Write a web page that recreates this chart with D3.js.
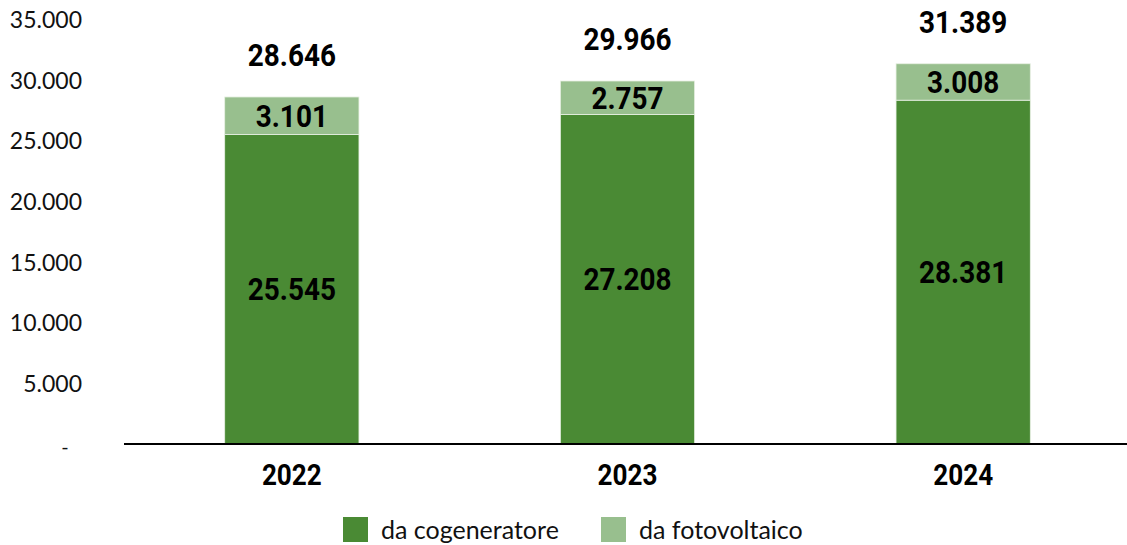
<!DOCTYPE html>
<html>
<head>
<meta charset="utf-8">
<script src="https://cdn.jsdelivr.net/npm/d3@7"></script>
<style>
  body { margin: 0; background: #fff; }
  .bold { font-family: "Roboto", sans-serif; font-weight: bold; fill: #000; }
  .reg { font-family: "Lato", "Open Sans", sans-serif; fill: #111; }
</style>
</head>
<body>
<svg width="1127" height="545"></svg>
<script>
const years = ['2022', '2023', '2024'];
const cogeneratore = [25545, 27208, 28381];
const fotovoltaico = [3101, 2757, 3008];
const totals = [28646, 29966, 31389];
const yTicks = [0, 5000, 10000, 15000, 20000, 25000, 30000, 35000];
const seriesNames = ['da cogeneratore', 'da fotovoltaico'];
const colors = ['#4a8a34', '#98bf8e'];

const svg = d3.select('svg');

const x = d3.scaleBand()
  .domain(years)
  .range([124, 1131])
  .paddingInner(0.6)
  .paddingOuter(0.3);

const y = d3.scaleLinear()
  .domain([0, 35000])
  .range([444, 20]);

const fmt = v => v === 0 ? '-' : d3.format(',')(v).replace(/,/g, '.');
// condensed look for the bold labels
const squeeze = (px, py) => `translate(${px},${py}) scale(0.9,1)`;

// y tick labels
svg.selectAll('.ytick')
  .data(yTicks)
  .enter()
  .append('text')
  .attr('class', 'reg')
  .attr('x', d => d === 0 ? 65 : 82)
  .attr('y', d => y(d))
  .attr('dy', d => d === 0 ? '0.5em' : '0.36em')
  .attr('text-anchor', d => d === 0 ? 'middle' : 'end')
  .style('font-size', d => d === 0 ? '20px' : '23px')
  .text(fmt);

const stackData = years.map((yr, i) => ({ year: yr, cog: cogeneratore[i], foto: fotovoltaico[i] }));
const stack = d3.stack().keys(['cog', 'foto'])(stackData);

const groups = svg.selectAll('.layer')
  .data(stack)
  .enter()
  .append('g')
  .attr('fill', (d, i) => colors[i]);

groups.selectAll('rect')
  .data(d => d)
  .enter()
  .append('rect')
  .attr('x', d => x(d.data.year))
  .attr('width', x.bandwidth())
  .attr('y', d => y(d[1]))
  .attr('height', d => y(d[0]) - y(d[1]))
  .attr('stroke', '#e8f0e4')
  .attr('stroke-width', 0.8);

// segment labels
groups.selectAll('.seg')
  .data(d => d)
  .enter()
  .append('text')
  .attr('class', 'bold')
  .attr('transform', d => squeeze(x(d.data.year) + x.bandwidth() / 2, (y(d[0]) + y(d[1])) / 2))
  .attr('dy', '0.36em')
  .attr('text-anchor', 'middle')
  .style('font-size', '31px')
  .text(d => fmt(d[1] - d[0]));

// totals
svg.selectAll('.total')
  .data(years)
  .enter()
  .append('text')
  .attr('class', 'bold')
  .attr('transform', (d, i) => squeeze(x(d) + x.bandwidth() / 2, y(totals[i]) - 42))
  .attr('dy', '0.36em')
  .attr('text-anchor', 'middle')
  .style('font-size', '31px')
  .text((d, i) => fmt(totals[i]));

// baseline
svg.append('line')
  .attr('x1', 124)
  .attr('x2', 1127)
  .attr('y1', y(0))
  .attr('y2', y(0))
  .attr('stroke', '#000')
  .attr('stroke-width', 2);

// year labels
svg.selectAll('.year')
  .data(years)
  .enter()
  .append('text')
  .attr('class', 'bold')
  .attr('transform', d => squeeze(x(d) + x.bandwidth() / 2, 475))
  .attr('dy', '0.36em')
  .attr('text-anchor', 'middle')
  .style('font-size', '29px')
  .text(d => d);

// legend
const legendX = [343, 601];
const legend = svg.selectAll('.legend')
  .data(seriesNames)
  .enter()
  .append('g')
  .attr('transform', (d, i) => `translate(${legendX[i]},517)`);

legend.append('rect')
  .attr('width', 25)
  .attr('height', 25)
  .attr('fill', (d, i) => colors[i]);

legend.append('text')
  .attr('class', 'reg')
  .attr('x', 38)
  .attr('y', 13)
  .attr('dy', '0.36em')
  .style('font-size', '25px')
  .text(d => d);
</script>
</body>
</html>
